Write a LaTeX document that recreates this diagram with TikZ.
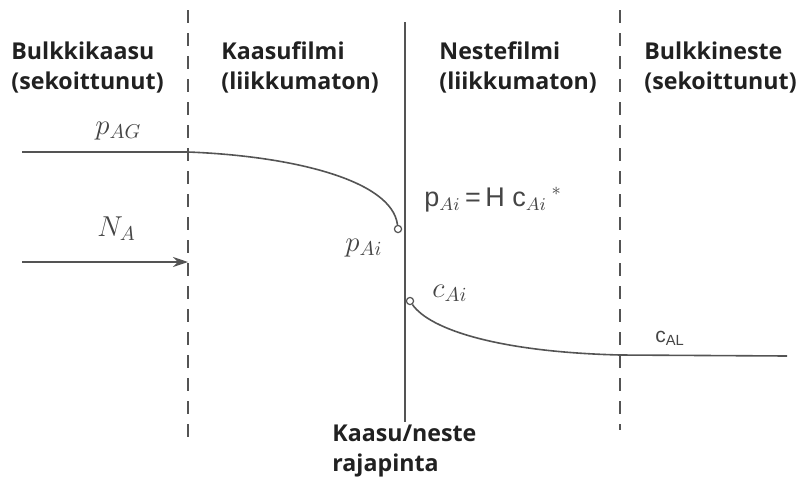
\documentclass[tikz,border=0pt]{standalone}
\usepackage{fontspec}
\setsansfont{Open Sans}
\newfontfamily\eqfont{Liberation Sans}
\usetikzlibrary{arrows.meta,calc}
\definecolor{LineClr}{rgb}{0.33,0.33,0.33}
\definecolor{TextClr}{rgb}{0.13,0.13,0.13}
\definecolor{SymClr}{rgb}{0.27,0.27,0.27}

\begin{document}
\begin{tikzpicture}[x=0.5pt,y=-0.5pt,
  zone/.style={anchor=north west,align=left,inner sep=0pt,text=TextClr,
    font=\sffamily\bfseries\fontsize{11.6}{15}\selectfont},
  sym/.style={inner sep=0pt,text=SymClr,font=\fontsize{14.5}{16}\selectfont},
  dot/.style={circle,draw=LineClr,fill=white,line width=0.6pt,inner sep=0pt,minimum size=3.6pt},
  film/.style={LineClr,line width=0.7pt,dash pattern=on 6.5pt off 5pt},
  conc/.style={LineClr,line width=0.8pt}]
\useasboundingbox (0,0) rectangle (799,483);

\coordinate (D1a) at (188,10);  \coordinate (D1b) at (188,437);
\coordinate (D2a) at (620,10);  \coordinate (D2b) at (620,430);
\coordinate (Ia)  at (405,22);  \coordinate (Ib)  at (405,422);

\draw[film] (D1a) -- (D1b);
\draw[film] (D2a) -- (D2b);
\draw[conc,line width=0.9pt] (Ia) -- (Ib);

\node[zone] (BG) at (11,41)  {Bulkkikaasu\\(sekoittunut)};
\node[zone] (GF) at (221,41) {Kaasufilmi\\(liikkumaton)};
\node[zone] (LF) at (439,41) {Nestefilmi\\(liikkumaton)};
\node[zone] (BL) at (644,41) {Bulkkineste\\(sekoittunut)};
\node[zone] (IF) at (332,425) {Kaasu/neste\\rajapinta};

% kaasupuoli
\coordinate (G0) at (22,152);
\coordinate (G1) at (188,152);
\node[dot] (Gi) at (398,229) {};
\draw[conc] (G0) -- (G1) .. controls (292,156) and (392,180) .. (Gi);

% nestepuoli
\node[dot] (Li) at (410,301) {};
\coordinate (L1) at (620,355);
\coordinate (L2) at (787,356);
\draw[conc] (Li) .. controls (430,330) and (500,352) .. (L1) -- (L2);

% vuo
\coordinate (N0) at (22,262);
\coordinate (N1) at (188,262);
\draw[conc,-{Stealth[length=7.5pt,width=5pt]}] (N0) -- (N1);

\node[sym,anchor=base west] (pAG) at (95,134) {$p_{AG}$};
\node[sym,anchor=base west] (NA)  at (97,236) {$N_A$};
\node[sym,anchor=base west] (pAi) at (345,251) {$p_{Ai}$};
\node[sym,anchor=base west] (cAi) at (432,297) {$c_{Ai}$};
\node[inner sep=0pt,anchor=base west,text=SymClr,font=\eqfont\fontsize{13.5}{15}\selectfont]
  (eq) at (424,206) {p$_{Ai}$\,=\,H c$_{Ai}$\,$^{*}$};
\node[inner sep=0pt,anchor=base west,text=SymClr,font=\eqfont\fontsize{10.5}{12}\selectfont]
  (cAL) at (655,342) {c\textsubscript{AL}};

\end{tikzpicture}
\end{document}
